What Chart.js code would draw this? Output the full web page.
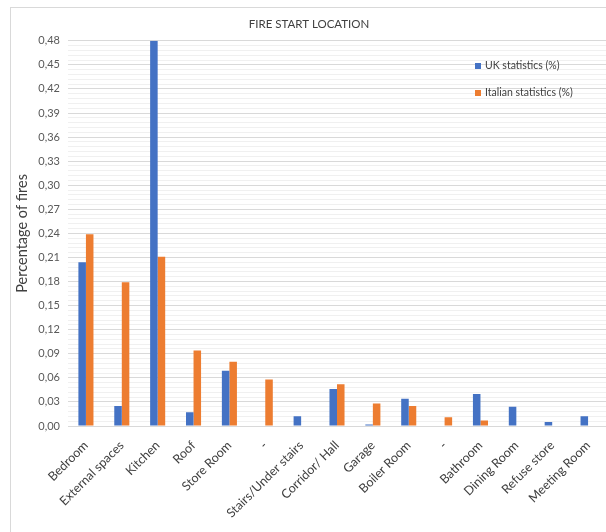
<!DOCTYPE html>
<html>
<head>
<meta charset="utf-8">
<script src="https://cdn.jsdelivr.net/npm/chart.js@4"></script>
<style>
  body { margin: 0; background: #fff; }
  #wrap { position: relative; width: 606px; height: 532px; overflow: hidden; }
  #frame { position: absolute; left: 10px; top: 7px; width: 700px; height: 600px; border: 1px solid #d9d9d9; box-sizing: border-box; }
  #fire_chart { position: absolute; left: 0; top: 0; }
  .legend { position: absolute; left: 475px; font: 10.5px Lato, sans-serif; color: #404040; }
  .legend span { display: inline-block; width: 6px; height: 6px; margin-right: 4px; }
</style>
</head>
<body>
<div id="wrap">
  <div id="frame"></div>
  <canvas id="fire_chart" width="606" height="532"></canvas>
  <div class="legend" style="top:59px"><span style="background:#4472C4"></span>UK statistics (%)</div>
  <div class="legend" style="top:86px"><span style="background:#ED7D31"></span>Italian statistics (%)</div>
</div>
<script>
const categories = ['Bedroom', 'External spaces', 'Kitchen', 'Roof', 'Store Room', '-', 'Stairs/Under stairs',
    'Corridor/ Hall', 'Garage', 'Boiler Room', '-', 'Bathroom', 'Dining Room', 'Refuse store', 'Meeting Room']
const uk_values = [0.204, 0.025, 0.48, 0.017, 0.069, null, 0.012, 0.046, 0.002, 0.034, null, 0.040, 0.024, 0.005, 0.012]
const italian_values = [0.239, 0.179, 0.211, 0.094, 0.080, 0.058, null, 0.052, 0.028, 0.025, 0.011, 0.007, null, null, null]
const y_ticks = [0, 0.03, 0.06, 0.09, 0.12, 0.15, 0.18, 0.21, 0.24, 0.27, 0.30, 0.33, 0.36, 0.39, 0.42, 0.45, 0.48]

const is_major = v => y_ticks.some(t => Math.abs(t - v) < 1e-6)

const fire_chart = document.querySelector('#fire_chart')

new Chart(fire_chart, {
    type: 'bar',
    data: {
        labels: categories,
        datasets: [{
            label: 'UK statistics (%)',
            data: uk_values,
            backgroundColor: '#4472C4'
        }, {
            label: 'Italian statistics (%)',
            data: italian_values,
            backgroundColor: '#ED7D31'
        }]
    },
    options: {
        responsive: false,
        animation: false,
        layout: {
            padding: { top: 7, left: 12, right: 0, bottom: 0 }
        },
        datasets: {
            bar: { categoryPercentage: 0.42, barPercentage: 1 }
        },
        plugins: {
            legend: false,
            tooltip: { enabled: false },
            title: {
                display: true,
                text: 'FIRE START LOCATION',
                color: '#404040',
                font: { family: 'Lato', size: 11.5, weight: 'normal' },
                padding: { top: 10, bottom: 10 }
            }
        },
        scales: {
            x: {
                grid: { display: false },
                border: { color: '#d9d9d9' },
                ticks: {
                    color: '#404040',
                    font: { family: 'Lato', size: 12.5 },
                    minRotation: 45,
                    maxRotation: 45,
                    padding: 4,
                    autoSkip: false
                },
                afterFit: scale => { scale.height = 106 }
            },
            y: {
                min: 0,
                max: 0.48,
                border: { display: false },
                grid: {
                    drawTicks: false,
                    color: ctx => is_major(ctx.tick.value) ? '#d9d9d9' : '#f0f0f0'
                },
                ticks: {
                    stepSize: 0.006,
                    maxTicksLimit: 200,
                    autoSkip: false,
                    color: '#595959',
                    padding: 8,
                    font: { family: 'Lato', size: 11 },
                    callback: value => is_major(value) ? value.toFixed(2).replace('.', ',') : ''
                },
                title: {
                    display: true,
                    text: 'Percentage of fires',
                    color: '#404040',
                    font: { family: 'Lato', size: 14.5 },
                    padding: 2
                },
                afterFit: scale => { scale.width = 56 }
            }
        }
    }
})
</script>
</body>
</html>
